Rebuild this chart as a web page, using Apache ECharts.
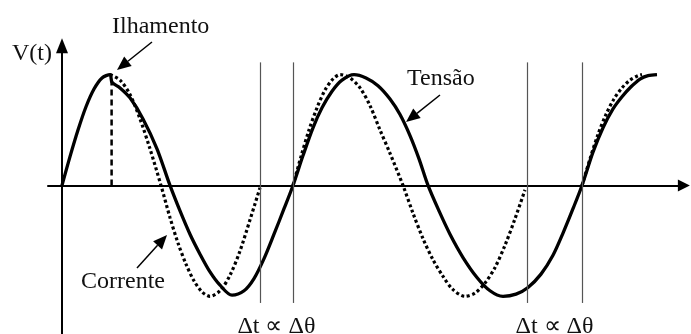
<!DOCTYPE html>
<html>
<head>
<meta charset="utf-8">
<script src="https://cdn.jsdelivr.net/npm/echarts@6/dist/echarts.min.js"></script>
<style>
  html, body { margin: 0; padding: 0; background: #fff; }
  #chart { width: 691px; height: 334px; }
</style>
</head>
<body>
<div id="chart"></div>
<script>
// Horizontal axis: phase angle ωt in degrees. Vertical axis: normalised V(t).

// Tensão (solid) — voltage; after islanding its frequency drifts
const tensaoX = [0, 15, 30, 45, 60, 75, 90, 93.8, 108.8, 127.5, 151.9, 178.1, 202.5,
                 221.3, 240, 258.8, 277.5, 296.3, 318.8, 341.3, 360, 378.8, 397.5, 416.3, 433.1,
                 451.9, 470.6, 487.5, 506.3, 525, 547.5, 570, 592.5, 615, 633.8, 652.5, 669.4, 686.3,
                 706.9, 727.5, 751.9, 778.1, 802.5, 826.9, 851.3, 873.8, 898.1, 920.6, 939.4, 958.1, 975,
                 995.6, 1014.4, 1033.1, 1050, 1066.9, 1083.8, 1098.8, 1115.6];
const tensaoY = [0, 0.26, 0.50, 0.71, 0.87, 0.97, 1.0, 0.93, 0.88, 0.79, 0.60, 0.33, 0,
                 -0.23, -0.44, -0.62, -0.78, -0.90, -0.99, -0.95, -0.84, -0.66, -0.44, -0.21, 0,
                 0.27, 0.52, 0.70, 0.85, 0.95, 1.0, 0.97, 0.90, 0.78, 0.64, 0.45, 0.24, 0,
                 -0.23, -0.44, -0.65, -0.83, -0.95, -1.0, -0.98, -0.92, -0.80, -0.63, -0.43, -0.21, 0,
                 0.30, 0.52, 0.69, 0.80, 0.89, 0.96, 0.99, 1.0];

// Corrente (dotted) — current keeps the original frequency; null marks a break
const correnteX = [90, 108.8, 127.5, 146.3, 165, 185.6, 202.5, 217.5, 232.5, 247.5, 262.5, 277.5,
                   296.3, 315, 333.8, 352.5, 371.3,
                   400,
                   433.1, 448.1, 463.1, 478.1, 493.1, 508.1, 521.3, 540, 558.8, 577.5, 596.3, 615, 639.4,
                   658.1, 676.9, 695.6, 714.4, 733.1, 755.6, 774.4, 793.1, 811.9, 830.6, 849.4, 868.1,
                   920,
                   975, 990, 1005, 1020, 1035, 1050, 1065, 1080, 1087.5];
const correnteY = [1.0, 0.95, 0.82, 0.60, 0.33, 0, -0.29, -0.52, -0.71, -0.86, -0.96, -1.0,
                   -0.95, -0.81, -0.59, -0.31, -0.02,
                   null,
                   0, 0.26, 0.50, 0.70, 0.86, 0.96, 1.0, 0.97, 0.88, 0.72, 0.50, 0.29, 0,
                   -0.25, -0.48, -0.67, -0.82, -0.94, -1.0, -0.97, -0.88, -0.74, -0.54, -0.30, -0.04,
                   null,
                   0, 0.24, 0.46, 0.64, 0.78, 0.88, 0.95, 0.99, 1.0];

// Islanding instant and the Δt ∝ Δθ marker pairs
const ilhamentoX = 93;
const ilhamentoTopo = 0.96;
const marcadoresPares = [[371, 433], [872, 975]];
const marcadorTopo = 1.11;
const marcadorBase = -1.06;

const rotuloIlhamento = 'Ilhamento';
const rotuloTensao = 'Tensão';
const rotuloCorrente = 'Corrente';
const rotuloEixo = 'V(t)';
const rotuloDelta = 'Δt ∝ Δθ';

// Axis extents (degrees / normalised units) and scale
const xMin = -26.25, xMax = 1166;
const yMin = -1.34, yMax = 1.26;
const pxPerDeg = 1 / 1.875;
const pxPerUnit = 112.5;
const gridLeft = 48;
const gridTop = 187.5 - yMax * pxPerUnit;

const FONT = '24px "Liberation Serif", "Times New Roman", serif';

const zip = (xs, ys) => xs.map((x, i) => (ys[i] == null ? [x, '-'] : [x, ys[i]]));

const markLines = [];
marcadoresPares.forEach(p => p.forEach(x => {
  markLines.push([{ coord: [x, marcadorTopo] }, { coord: [x, marcadorBase] }]);
}));

const chart = echarts.init(document.getElementById('chart'), null, { renderer: 'canvas' });

chart.setOption({
  animation: false,
  backgroundColor: '#fff',
  grid: {
    left: gridLeft,
    top: gridTop,
    width: (xMax - xMin) * pxPerDeg,
    height: (yMax - yMin) * pxPerUnit,
    containLabel: false
  },
  xAxis: {
    type: 'value', min: xMin, max: xMax,
    axisLine: { show: true, onZero: true, symbol: ['none', 'triangle'], symbolSize: [12, 12],
                lineStyle: { color: '#000', width: 2 } },
    axisTick: { show: false }, axisLabel: { show: false }, splitLine: { show: false }
  },
  yAxis: {
    type: 'value', min: yMin, max: yMax,
    axisLine: { show: true, onZero: true, symbol: ['none', 'triangle'], symbolSize: [12, 15],
                lineStyle: { color: '#000', width: 2 } },
    axisTick: { show: false }, axisLabel: { show: false }, splitLine: { show: false }
  },
  series: [
    {
      name: 'Marcadores', type: 'line', data: [], silent: true,
      markLine: {
        silent: true, symbol: ['none', 'none'], label: { show: false },
        lineStyle: { color: '#555', width: 1.2, type: 'solid' },
        data: markLines
      }
    },
    {
      name: 'Ilhamento', type: 'line', showSymbol: false, silent: true,
      data: [[ilhamentoX, 0], [ilhamentoX, ilhamentoTopo]],
      lineStyle: { color: '#000', width: 2.5, type: [6, 4] }
    },
    {
      name: rotuloCorrente, type: 'line', showSymbol: false, smooth: 0.3, connectNulls: false,
      data: zip(correnteX, correnteY),
      lineStyle: { color: '#000', width: 3.2, type: [3, 2.6], cap: 'butt' }
    },
    {
      name: rotuloTensao, type: 'line', showSymbol: false, smooth: 0.3,
      data: zip(tensaoX, tensaoY),
      lineStyle: { color: '#000', width: 3.3 }
    }
  ]
});

function arrow(x1, y1, x2, y2) {
  const dx = x2 - x1, dy = y2 - y1, L = Math.hypot(dx, dy);
  const ux = dx / L, uy = dy / L, hl = 14, hw = 6;
  const bx = x2 - ux * hl, by = y2 - uy * hl;
  return [
    { type: 'line', shape: { x1: x1, y1: y1, x2: bx, y2: by }, style: { stroke: '#000', lineWidth: 1.5 } },
    { type: 'polygon', shape: { points: [[x2, y2], [bx - uy * hw, by + ux * hw], [bx + uy * hw, by - ux * hw]] },
      style: { fill: '#000' } }
  ];
}

function text(str, x, y, align) {
  return { type: 'text', x: x, y: y, z: 100,
           style: { text: str, font: FONT, fill: '#111', align: align || 'left', verticalAlign: 'middle' } };
}

const graphics = [];
graphics.push(text(rotuloIlhamento, 112, 27));
graphics.push(text(rotuloEixo, 12, 54));
graphics.push(text(rotuloTensao, 407, 79));
graphics.push(text(rotuloCorrente, 81, 282));
marcadoresPares.forEach(p => {
  const a = chart.convertToPixel({ gridIndex: 0 }, [p[0], 0]);
  const b = chart.convertToPixel({ gridIndex: 0 }, [p[1], 0]);
  graphics.push(text(rotuloDelta, (a[0] + b[0]) / 2, 327, 'center'));
});
graphics.push(...arrow(152, 42, 117, 70));
graphics.push(...arrow(440, 95, 406, 122));
graphics.push(...arrow(137, 268, 167, 235));

chart.setOption({ graphic: graphics });
</script>
</body>
</html>
